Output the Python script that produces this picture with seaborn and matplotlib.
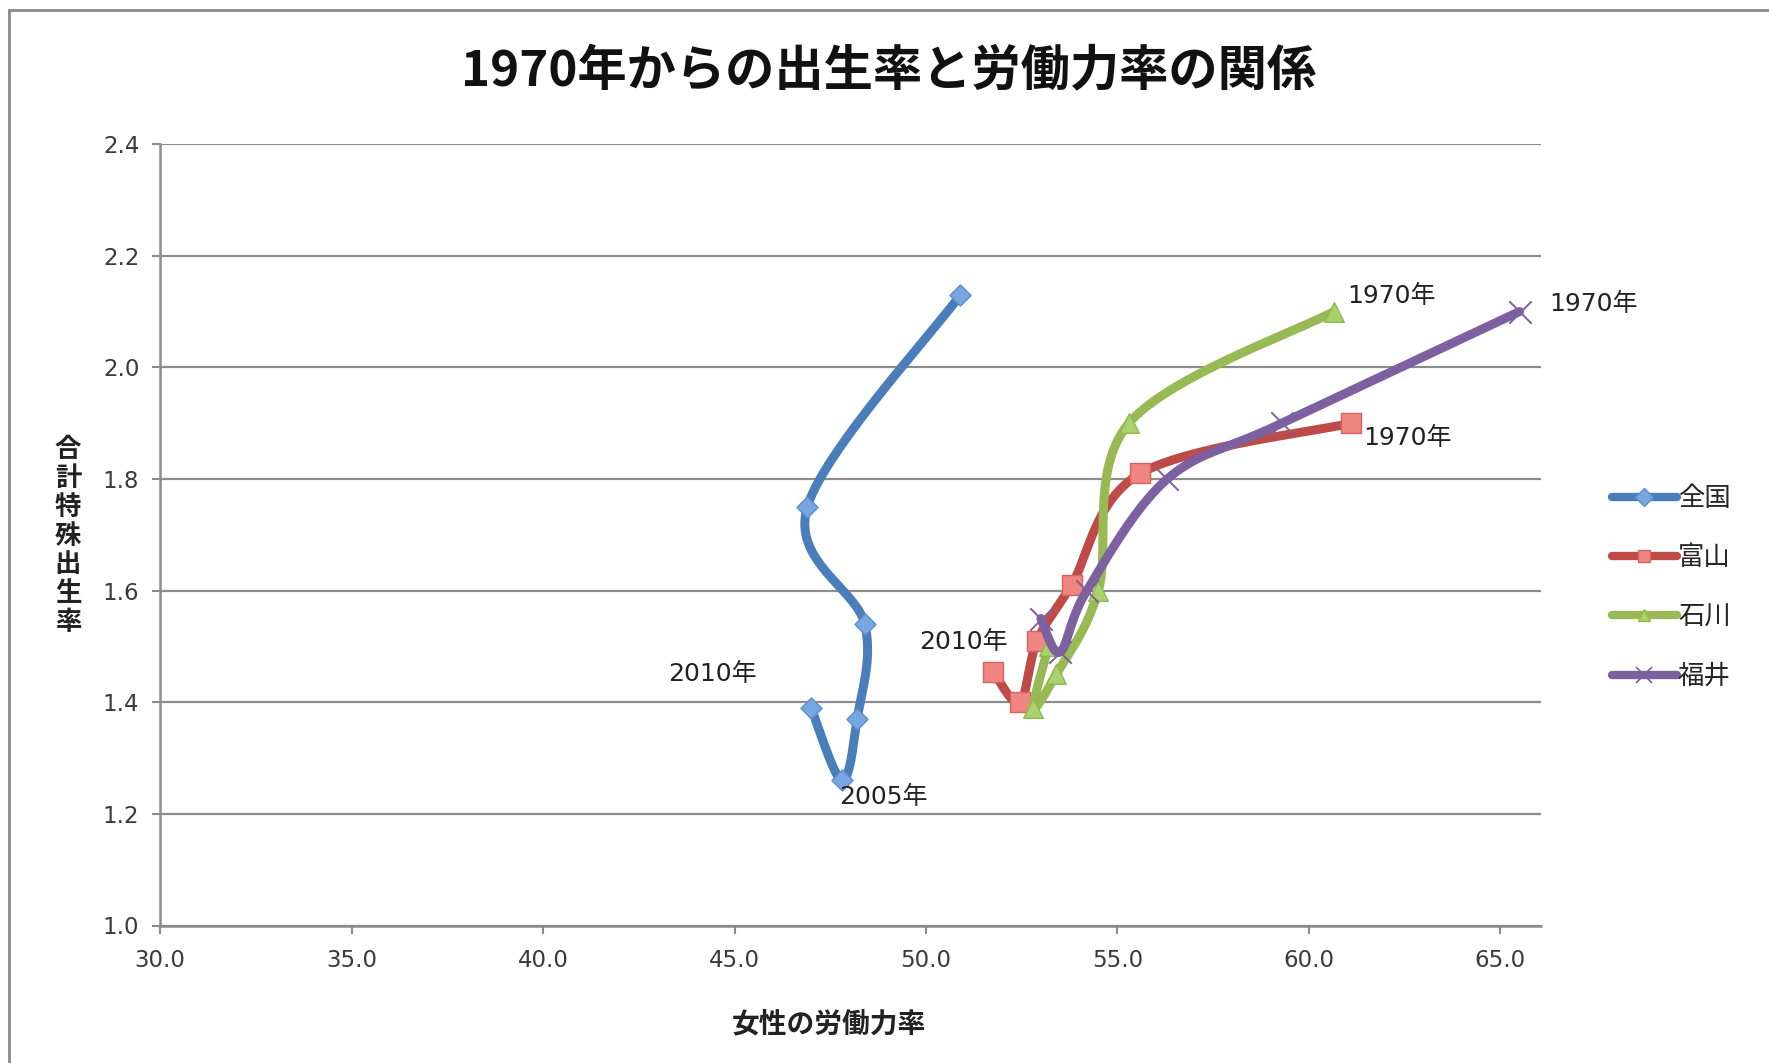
import numpy as np
import pandas as pd
import matplotlib
matplotlib.use("Agg")
import matplotlib.pyplot as plt
from matplotlib.lines import Line2D
import seaborn as sns

# ---------------- data ----------------
years = [1970, 1980, 1990, 2000, 2005, 2010]
series_names = ["全国", "富山", "石川", "福井"]

zenkoku_x = [50.9, 46.9, 48.4, 48.2, 47.8, 47.0]
zenkoku_y = [2.13, 1.75, 1.54, 1.37, 1.26, 1.39]

toyama_x = [61.1, 55.6, 53.8, 52.9, 52.45, 51.75]
toyama_y = [1.90, 1.81, 1.61, 1.51, 1.40, 1.455]

ishikawa_x = [60.65, 55.3, 54.5, 53.4, 52.8, 53.2]
ishikawa_y = [2.10, 1.90, 1.60, 1.45, 1.39, 1.50]

fukui_x = [65.5, 59.3, 56.3, 54.2, 53.5, 53.0]
fukui_y = [2.10, 1.90, 1.80, 1.60, 1.49, 1.55]

x_ticks = [30.0, 35.0, 40.0, 45.0, 50.0, 55.0, 60.0, 65.0]
y_ticks = [1.0, 1.2, 1.4, 1.6, 1.8, 2.0, 2.2, 2.4]

title_text = "1970年からの出生率と労働力率の関係"
x_label = "女性の労働力率"
y_label = "合計特殊出生率"

# data labels: (series, year, text)
point_labels = [
    ("石川", 1970, "1970年"),
    ("福井", 1970, "1970年"),
    ("富山", 1970, "1970年"),
    ("富山", 2010, "2010年"),
    ("全国", 2010, "2010年"),
    ("全国", 2005, "2005年"),
]

# ---------------- styling ----------------
W, H = 1769, 1063
sns.set_style("white")
plt.rcParams["font.family"] = ["Noto Sans CJK JP", "DejaVu Sans"]
LABEL_FONT = ["DejaVu Sans", "Noto Sans CJK JP"]

frames = []
for name, xs, ys in [("全国", zenkoku_x, zenkoku_y), ("富山", toyama_x, toyama_y),
                     ("石川", ishikawa_x, ishikawa_y), ("福井", fukui_x, fukui_y)]:
    frames.append(pd.DataFrame({"series": name, "year": years, "rate": xs, "tfr": ys}))
df = pd.concat(frames, ignore_index=True)

style = {
    "全国": dict(color="#4A7EBB", marker="D", s=115, fc="#78A6E0", ec="#5B8ED3", lw=1.0),
    "富山": dict(color="#BE4B48", marker="s", s=220, fc="#F08682", ec="#D9625E", lw=1.0),
    "石川": dict(color="#98B954", marker="^", s=200, fc="#A9D26C", ec="#8FB851", lw=1.0),
    "福井": dict(color="#7D60A0", marker="x", s=260, fc="#7D60A0", ec="#7D60A0", lw=1.4),
}
label_offsets = {  # pixel offsets of data labels from their points
    ("石川", 1970): (13, 16, "left"),
    ("福井", 1970): (30, 8, "left"),
    ("富山", 1970): (12, -15, "left"),
    ("富山", 2010): (-30, 30, "center"),
    ("全国", 2010): (-99, 34, "center"),
    ("全国", 2005): (42, -17, "center"),
}

fig = plt.figure(figsize=(W / 100, H / 100), dpi=100)
left, right = 160.2 / W, 1540.6 / W
bottom, top = 1 - 925.5 / H, 1 - 144.1 / H
ax = fig.add_axes([left, bottom, right - left, top - bottom])
ax.set_xlim(30.0, 66.05)
ax.set_ylim(1.0, 2.4)


def smooth(ax, xs, ys, n=40):
    pts = ax.transData.transform(np.column_stack([xs, ys]))
    P = np.vstack([pts[0], pts, pts[-1]])
    out = []
    t = np.linspace(0, 1, n)[:, None]
    for i in range(1, len(P) - 2):
        p0, p1, p2, p3 = P[i - 1], P[i], P[i + 1], P[i + 2]
        b1 = p1 + (p2 - p0) / 6.0
        b2 = p2 - (p3 - p1) / 6.0
        seg = (1 - t) ** 3 * p1 + 3 * (1 - t) ** 2 * t * b1 + 3 * (1 - t) * t ** 2 * b2 + t ** 3 * p2
        out.append(seg if i == 1 else seg[1:])
    arr = ax.transData.inverted().transform(np.vstack(out))
    return pd.DataFrame({"rate": arr[:, 0], "tfr": arr[:, 1]})


for k, name in enumerate(series_names):
    st = style[name]
    sub = df[df["series"] == name]
    sm = smooth(ax, sub["rate"].values, sub["tfr"].values)
    sns.lineplot(data=sm, x="rate", y="tfr", sort=False, estimator=None, ax=ax,
                 color=st["color"], lw=6.5, zorder=3 + 2 * k, solid_capstyle="round",
                 solid_joinstyle="round")
    if st["marker"] == "x":
        sns.scatterplot(data=sub, x="rate", y="tfr", ax=ax, marker="x", s=st["s"],
                        color=st["color"], linewidth=st["lw"], zorder=4 + 2 * k)
    else:
        sns.scatterplot(data=sub, x="rate", y="tfr", ax=ax, marker=st["marker"], s=st["s"],
                        color=st["fc"], edgecolor=st["ec"], linewidth=st["lw"], zorder=4 + 2 * k)

for name, yr, txt in point_labels:
    row = df[(df["series"] == name) & (df["year"] == yr)].iloc[0]
    dx, dy, ha = label_offsets[(name, yr)]
    ax.annotate(txt, xy=(row["rate"], row["tfr"]), xytext=(dx, dy), textcoords="offset pixels",
                ha=ha, va="center", fontsize=18, color="#222222", zorder=20,
                family=LABEL_FONT)

# axes styling
ax.set_xticks(x_ticks)
ax.set_yticks(y_ticks)
ax.set_xticklabels([f"{v:.1f}" for v in x_ticks], family=LABEL_FONT)
ax.set_yticklabels([f"{v:.1f}" for v in y_ticks], family=LABEL_FONT)
ax.grid(axis="y", color="#8c8c8c", lw=1.6, zorder=0)
ax.grid(axis="x", visible=False)
for sp in ["top", "right"]:
    ax.spines[sp].set_visible(False)
for sp in ["left", "bottom"]:
    ax.spines[sp].set_color("#8c8c8c")
    ax.spines[sp].set_linewidth(1.8)
ax.tick_params(axis="both", direction="out", length=6, width=1.5, color="#8c8c8c",
               labelsize=16.5, labelcolor="#3a3a3a")
ax.tick_params(axis="y", pad=9, left=True)
ax.tick_params(axis="x", pad=11, bottom=True)
ax.set_xlabel("")
ax.set_ylabel("")

fig.text(889 / W, 1 - 71.5 / H, title_text, ha="center", va="center", fontsize=35.5,
         fontweight="bold", color="#111111")
fig.text(829 / W, 1 - 1024 / H, x_label, ha="center", va="center", fontsize=20,
         fontweight="bold", color="#222222")
fig.text(68 / W, 1 - 536 / H, "\n".join(list(y_label)), ha="center", va="center",
         fontsize=19, fontweight="bold", color="#222222", linespacing=1.08)

# legend
handles = []
for name in series_names:
    st = style[name]
    if st["marker"] == "x":
        h = Line2D([], [], color=st["color"], lw=6, marker="x", markersize=11,
                   markeredgecolor=st["color"], markeredgewidth=1.2)
    else:
        h = Line2D([], [], color=st["color"], lw=6, marker=st["marker"], markersize=9,
                   markerfacecolor=st["fc"], markeredgecolor=st["ec"])
    handles.append(h)
fig.legend(handles, series_names, loc="center left", bbox_to_anchor=(1612 / W, 1 - 587.5 / H),
           frameon=False, fontsize=19, handlelength=2.45, handletextpad=0.05,
           labelspacing=1.22, borderpad=0, borderaxespad=0)

# chart border (left and top edges visible in the reference)
fig.add_artist(Line2D([9 / W, 9 / W], [0, 1 - 10 / H], transform=fig.transFigure,
                      color="#8a8a8a", lw=2))
fig.add_artist(Line2D([9 / W, 1], [1 - 10 / H, 1 - 10 / H], transform=fig.transFigure,
                      color="#8a8a8a", lw=2))

fig.savefig("out.png", dpi=100)
